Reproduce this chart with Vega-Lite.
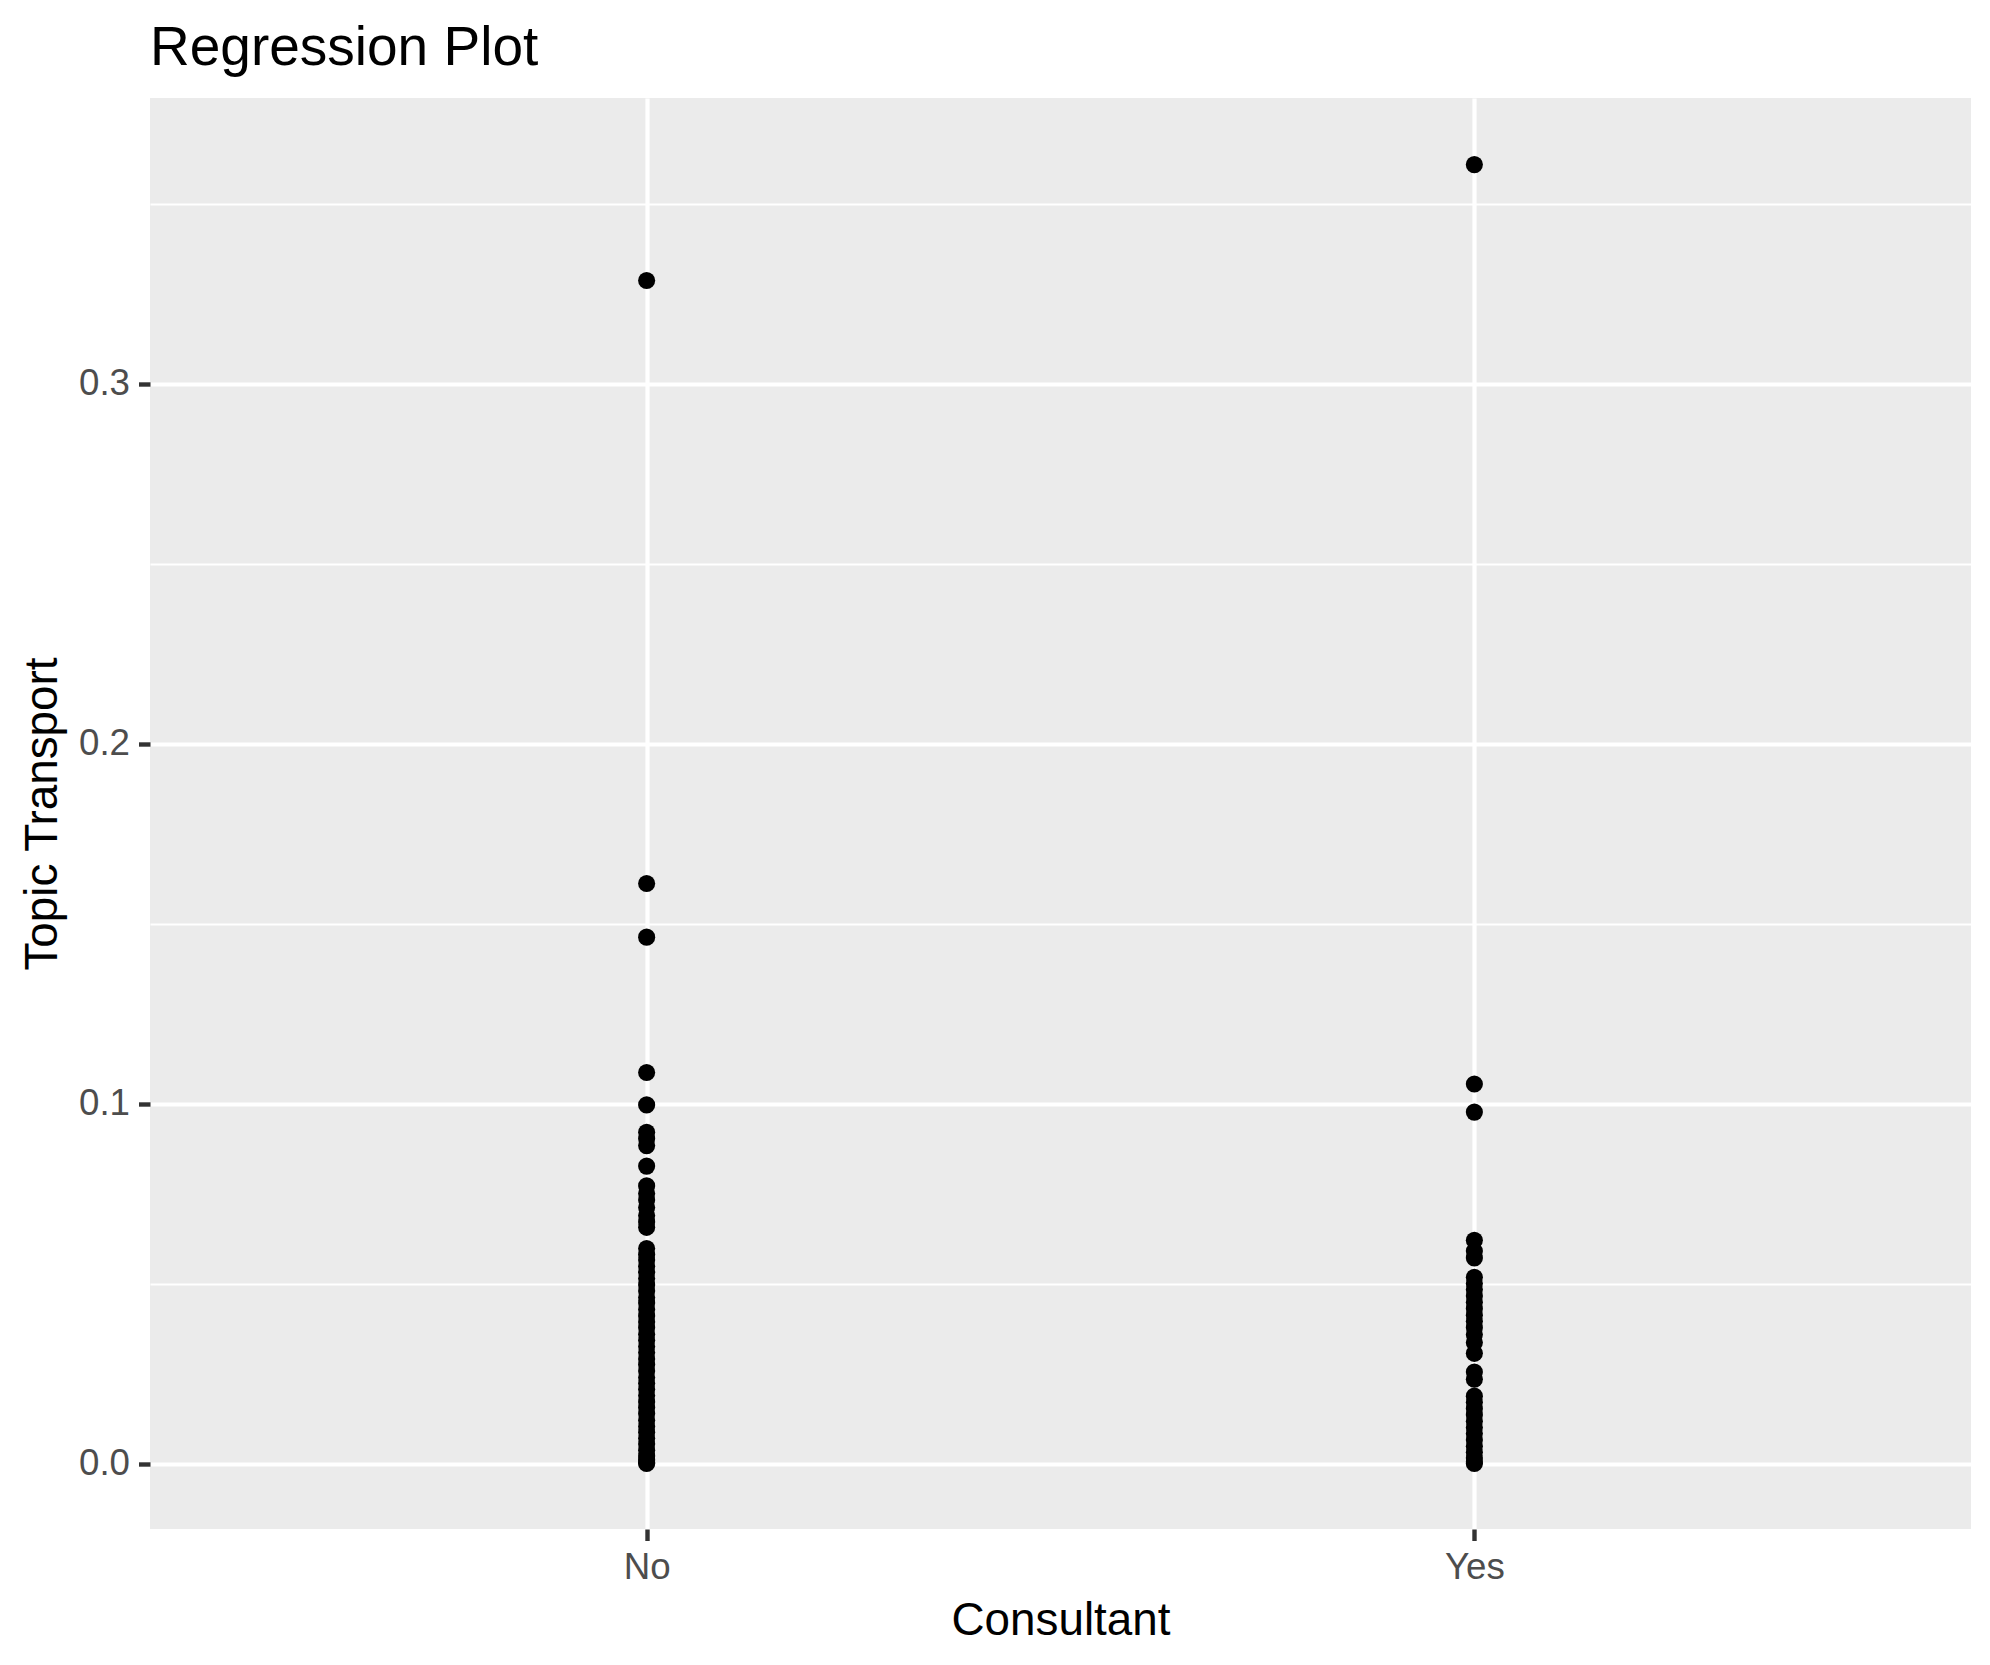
{
  "$schema": "https://vega.github.io/schema/vega-lite/v6.json",
  "width": 1821,
  "height": 1431,
  "autosize": {"type": "none"},
  "padding": {"left": 150, "top": 98, "right": 19, "bottom": 136},
  "background": "white",
  "title": {
    "text": "Regression Plot",
    "anchor": "start",
    "frame": "group",
    "font": "Liberation Sans",
    "fontSize": 55,
    "fontWeight": "normal",
    "color": "black",
    "baseline": "alphabetic",
    "offset": -22
  },
  "config": {
    "view": {"fill": "#EBEBEB", "stroke": null},
    "font": "Liberation Sans"
  },
  "data": {
    "values": [
      {"Consultant": "No", "Topic": 0.3287},
      {"Consultant": "No", "Topic": 0.1612},
      {"Consultant": "No", "Topic": 0.1463},
      {"Consultant": "No", "Topic": 0.1087},
      {"Consultant": "No", "Topic": 0.0997},
      {"Consultant": "No", "Topic": 0.0921},
      {"Consultant": "No", "Topic": 0.0903},
      {"Consultant": "No", "Topic": 0.0884},
      {"Consultant": "No", "Topic": 0.0827},
      {"Consultant": "No", "Topic": 0.0772},
      {"Consultant": "No", "Topic": 0.0751},
      {"Consultant": "No", "Topic": 0.0733},
      {"Consultant": "No", "Topic": 0.0712},
      {"Consultant": "No", "Topic": 0.0690},
      {"Consultant": "No", "Topic": 0.0672},
      {"Consultant": "No", "Topic": 0.0657},
      {"Consultant": "No", "Topic": 0.0598},
      {"Consultant": "No", "Topic": 0.0581},
      {"Consultant": "No", "Topic": 0.0566},
      {"Consultant": "No", "Topic": 0.0549},
      {"Consultant": "No", "Topic": 0.0532},
      {"Consultant": "No", "Topic": 0.0515},
      {"Consultant": "No", "Topic": 0.0497},
      {"Consultant": "No", "Topic": 0.0480},
      {"Consultant": "No", "Topic": 0.0462},
      {"Consultant": "No", "Topic": 0.0447},
      {"Consultant": "No", "Topic": 0.0429},
      {"Consultant": "No", "Topic": 0.0411},
      {"Consultant": "No", "Topic": 0.0394},
      {"Consultant": "No", "Topic": 0.0378},
      {"Consultant": "No", "Topic": 0.0360},
      {"Consultant": "No", "Topic": 0.0343},
      {"Consultant": "No", "Topic": 0.0326},
      {"Consultant": "No", "Topic": 0.0309},
      {"Consultant": "No", "Topic": 0.0291},
      {"Consultant": "No", "Topic": 0.0275},
      {"Consultant": "No", "Topic": 0.0258},
      {"Consultant": "No", "Topic": 0.0240},
      {"Consultant": "No", "Topic": 0.0224},
      {"Consultant": "No", "Topic": 0.0207},
      {"Consultant": "No", "Topic": 0.0190},
      {"Consultant": "No", "Topic": 0.0172},
      {"Consultant": "No", "Topic": 0.0156},
      {"Consultant": "No", "Topic": 0.0139},
      {"Consultant": "No", "Topic": 0.0121},
      {"Consultant": "No", "Topic": 0.0104},
      {"Consultant": "No", "Topic": 0.0088},
      {"Consultant": "No", "Topic": 0.0071},
      {"Consultant": "No", "Topic": 0.0055},
      {"Consultant": "No", "Topic": 0.0038},
      {"Consultant": "No", "Topic": 0.0022},
      {"Consultant": "No", "Topic": 0.0011},
      {"Consultant": "No", "Topic": 0.0004},
      {"Consultant": "No", "Topic": 0.0001},
      {"Consultant": "Yes", "Topic": 0.3609},
      {"Consultant": "Yes", "Topic": 0.1055},
      {"Consultant": "Yes", "Topic": 0.0977},
      {"Consultant": "Yes", "Topic": 0.0621},
      {"Consultant": "Yes", "Topic": 0.0591},
      {"Consultant": "Yes", "Topic": 0.0572},
      {"Consultant": "Yes", "Topic": 0.0518},
      {"Consultant": "Yes", "Topic": 0.0501},
      {"Consultant": "Yes", "Topic": 0.0484},
      {"Consultant": "Yes", "Topic": 0.0466},
      {"Consultant": "Yes", "Topic": 0.0449},
      {"Consultant": "Yes", "Topic": 0.0431},
      {"Consultant": "Yes", "Topic": 0.0413},
      {"Consultant": "Yes", "Topic": 0.0396},
      {"Consultant": "Yes", "Topic": 0.0378},
      {"Consultant": "Yes", "Topic": 0.0359},
      {"Consultant": "Yes", "Topic": 0.0337},
      {"Consultant": "Yes", "Topic": 0.0307},
      {"Consultant": "Yes", "Topic": 0.0255},
      {"Consultant": "Yes", "Topic": 0.0235},
      {"Consultant": "Yes", "Topic": 0.0188},
      {"Consultant": "Yes", "Topic": 0.0171},
      {"Consultant": "Yes", "Topic": 0.0153},
      {"Consultant": "Yes", "Topic": 0.0136},
      {"Consultant": "Yes", "Topic": 0.0118},
      {"Consultant": "Yes", "Topic": 0.0101},
      {"Consultant": "Yes", "Topic": 0.0084},
      {"Consultant": "Yes", "Topic": 0.0066},
      {"Consultant": "Yes", "Topic": 0.0049},
      {"Consultant": "Yes", "Topic": 0.0032},
      {"Consultant": "Yes", "Topic": 0.0016},
      {"Consultant": "Yes", "Topic": 0.0005},
      {"Consultant": "Yes", "Topic": 0.0001}
    ]
  },
  "mark": {"type": "point", "filled": true, "color": "black", "opacity": 1, "size": 293},
  "encoding": {
    "x": {
      "field": "Consultant",
      "type": "nominal",
      "scale": {"type": "point", "padding": 0.6},
      "axis": {
        "title": "Consultant",
        "titleFont": "Liberation Sans",
        "titleFontSize": 45.8,
        "titleFontWeight": "normal",
        "titleColor": "black",
        "titlePadding": 12,
        "labelAngle": 0,
        "labelFont": "Liberation Sans",
        "labelFontSize": 36.7,
        "labelColor": "#4D4D4D",
        "labelPadding": 9,
        "tickSize": 11.5,
        "tickWidth": 4.4,
        "tickColor": "#333333",
        "domain": false,
        "grid": true,
        "gridColor": "white",
        "gridWidth": 4.2
      }
    },
    "y": {
      "field": "Topic",
      "type": "quantitative",
      "scale": {"domain": [-0.0181, 0.3794], "nice": false, "zero": false},
      "axis": {
        "title": "Topic Transport",
        "titleFont": "Liberation Sans",
        "titleFontSize": 45.8,
        "titleFontWeight": "normal",
        "titleColor": "black",
        "titlePadding": 12,
        "values": [0, 0.05, 0.1, 0.15, 0.2, 0.25, 0.3, 0.35],
        "labelExpr": "round(datum.value*20) % 2 == 0 ? format(datum.value, '.1f') : ''",
        "labelFont": "Liberation Sans",
        "labelFontSize": 36.7,
        "labelColor": "#4D4D4D",
        "labelPadding": 9,
        "tickSize": {"condition": {"test": "round(datum.value*20) % 2 == 0", "value": 11.5}, "value": 0},
        "tickWidth": 4.4,
        "tickColor": "#333333",
        "domain": false,
        "grid": true,
        "gridColor": "white",
        "gridWidth": {"condition": {"test": "round(datum.value*20) % 2 == 0", "value": 4.2}, "value": 2.1}
      }
    }
  }
}
